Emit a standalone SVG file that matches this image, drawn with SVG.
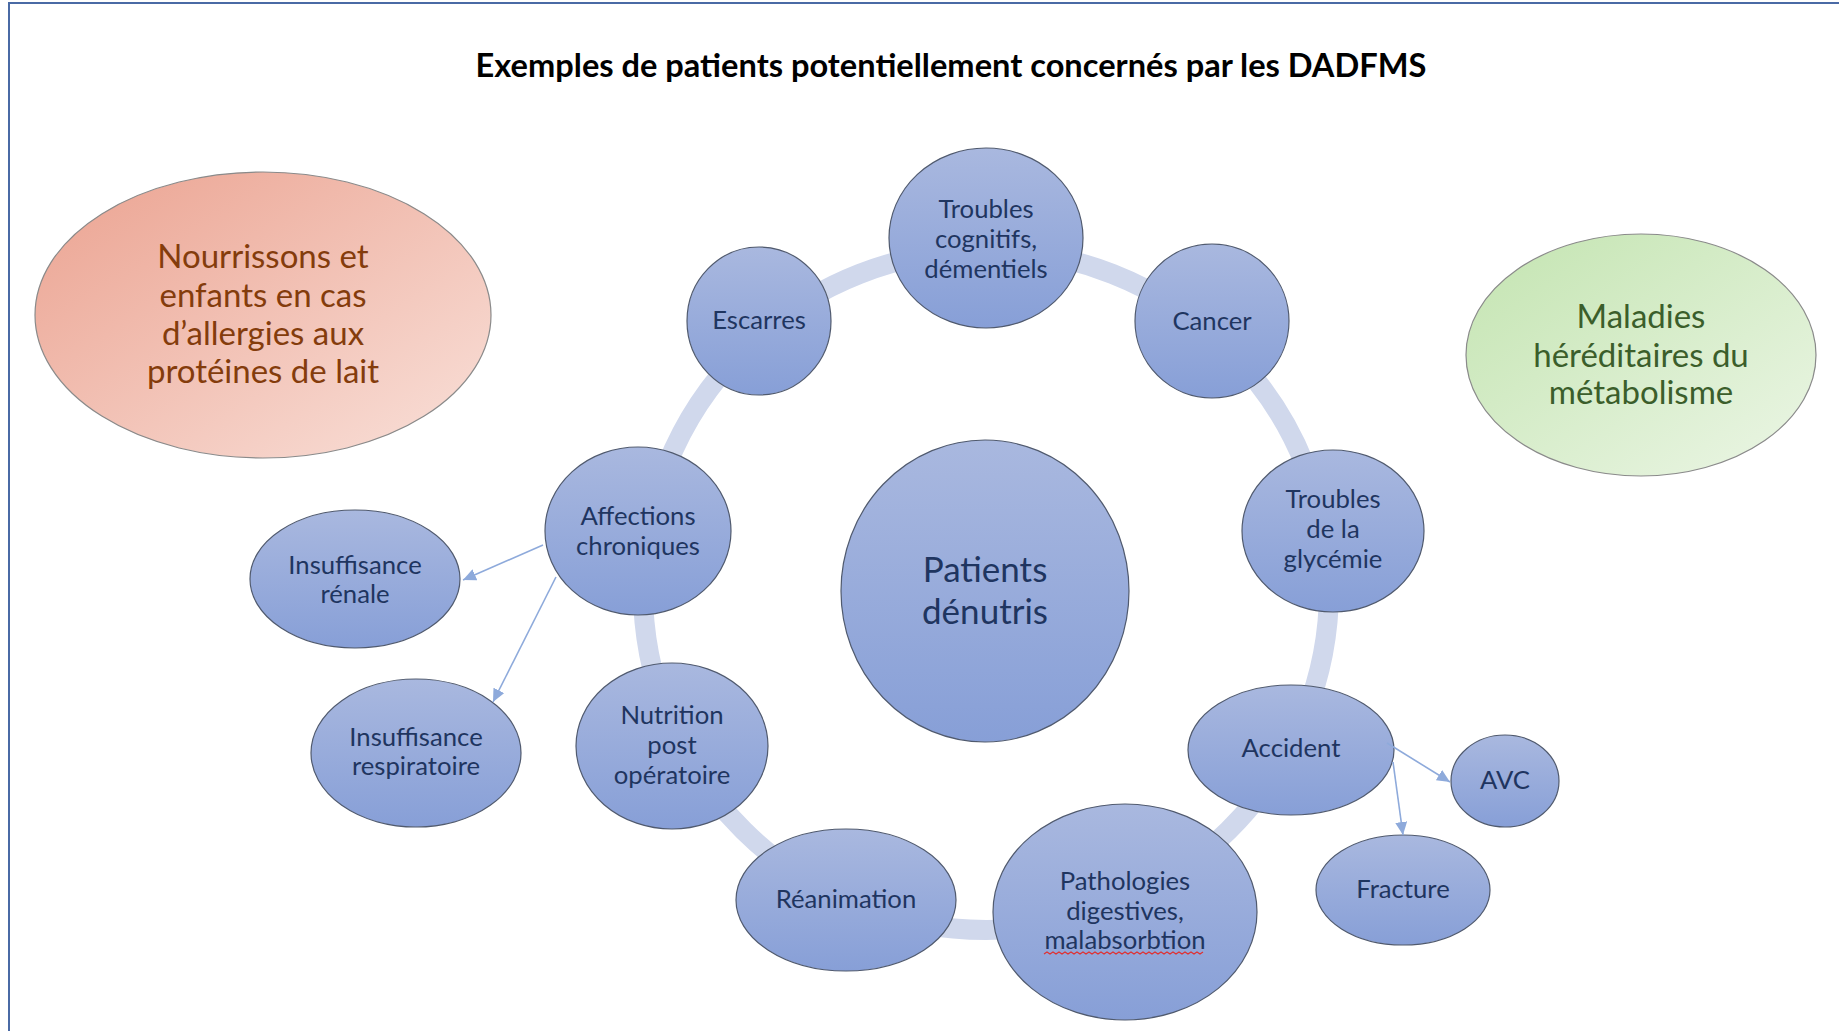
<svg xmlns="http://www.w3.org/2000/svg" width="1839" height="1031" viewBox="0 0 1839 1031">
  <defs>
    <linearGradient id="gBlue" x1="0" y1="0" x2="0" y2="1">
      <stop offset="0" stop-color="#a9b8df"/>
      <stop offset="1" stop-color="#879fd7"/>
    </linearGradient>
    <linearGradient id="gPink" x1="0" y1="0" x2="1" y2="1">
      <stop offset="0" stop-color="#eba290"/>
      <stop offset="1" stop-color="#f9e1da"/>
    </linearGradient>
    <linearGradient id="gGreen" x1="0" y1="0" x2="1" y2="1">
      <stop offset="0" stop-color="#c3e4b0"/>
      <stop offset="1" stop-color="#ecf6e6"/>
    </linearGradient>
    <marker id="arrow" markerUnits="userSpaceOnUse" markerWidth="14" markerHeight="12" refX="13" refY="6" orient="auto">
      <path d="M0,0 L13,6 L0,12 Z" fill="#8eaadb"/>
    </marker>
    <style>
      .node { fill: url(#gBlue); stroke: #505a6e; stroke-width: 1.2; }
      .t { font-family: Lato, "Liberation Sans", sans-serif; font-size: 25.7px; fill: #1f3560; text-anchor: middle; }
      .big { font-size: 35px; }
      .pinkt { font-family: Lato, "Liberation Sans", sans-serif; font-size: 33px; fill: #843c0c; text-anchor: middle; }
      .greent { font-family: Lato, "Liberation Sans", sans-serif; font-size: 33px; fill: #3b5e2b; text-anchor: middle; }
      .conn { stroke: #8eaadb; stroke-width: 1.6; fill: none; marker-end: url(#arrow); }
      .frame { stroke: #4a6aa5; stroke-width: 2; fill: none; }
    </style>
  </defs>
  <rect width="1839" height="1031" fill="#ffffff"/>
  <path class="frame" d="M9,1031 L9,3 L1839,3"/>

  <text x="951" y="77" font-family="Lato, 'Liberation Sans', sans-serif" font-weight="bold" font-size="32.6" fill="#000000" text-anchor="middle">Exemples de patients potentiellement concernés par les DADFMS</text>

  <ellipse id="ring" cx="986" cy="590" rx="343" ry="340" fill="none" stroke="#d0d8ec" stroke-width="20"/>

  <g id="n-nourrissons">
    <ellipse cx="263" cy="315" rx="228" ry="143" fill="url(#gPink)" stroke="#8a8a8a" stroke-width="1.2"/>
    <text class="pinkt" x="263" y="268">Nourrissons et</text>
    <text class="pinkt" x="263" y="307">enfants en cas</text>
    <text class="pinkt" x="263" y="345">d’allergies aux</text>
    <text class="pinkt" x="263" y="383">protéines de lait</text>
  </g>

  <g id="n-maladies">
    <ellipse cx="1641" cy="355" rx="175" ry="121" fill="url(#gGreen)" stroke="#8a8a8a" stroke-width="1.2"/>
    <text class="greent" x="1641" y="328">Maladies</text>
    <text class="greent" x="1641" y="367">héréditaires du</text>
    <text class="greent" x="1641" y="404">métabolisme</text>
  </g>

  <g id="n-patients">
    <ellipse class="node" cx="985" cy="591" rx="144" ry="151"/>
    <text class="t big" x="985" y="582">Patients</text>
    <text class="t big" x="985" y="624">dénutris</text>
  </g>

  <g id="n-troubles-cognitifs">
    <ellipse class="node" cx="986" cy="238" rx="97" ry="90"/>
    <text class="t" x="986" y="218">Troubles</text>
    <text class="t" x="986" y="248">cognitifs,</text>
    <text class="t" x="986" y="278">démentiels</text>
  </g>

  <g id="n-cancer">
    <ellipse class="node" cx="1212" cy="321" rx="77" ry="77"/>
    <text class="t" x="1212" y="330">Cancer</text>
  </g>

  <g id="n-escarres">
    <ellipse class="node" cx="759" cy="321" rx="72" ry="74"/>
    <text class="t" x="759" y="329">Escarres</text>
  </g>

  <g id="n-glycemie">
    <ellipse class="node" cx="1333" cy="531" rx="91" ry="81"/>
    <text class="t" x="1333" y="508">Troubles</text>
    <text class="t" x="1333" y="538">de la</text>
    <text class="t" x="1333" y="568">glycémie</text>
  </g>

  <g id="n-accident">
    <ellipse class="node" cx="1291" cy="750" rx="103" ry="65"/>
    <text class="t" x="1291" y="757">Accident</text>
  </g>

  <g id="n-avc">
    <ellipse class="node" cx="1505" cy="781" rx="54" ry="46"/>
    <text class="t" x="1505" y="789">AVC</text>
  </g>

  <g id="n-fracture">
    <ellipse class="node" cx="1403" cy="890" rx="87" ry="55"/>
    <text class="t" x="1403" y="898">Fracture</text>
  </g>

  <g id="n-pathologies">
    <ellipse class="node" cx="1125" cy="912" rx="132" ry="108"/>
    <text class="t" x="1125" y="890">Pathologies</text>
    <text class="t" x="1125" y="920">digestives,</text>
    <text class="t" x="1125" y="949">malabsorbtion</text>
    <path d="M1044,954 l3,-2 l3,2 l3,-2 l3,2 l3,-2 l3,2 l3,-2 l3,2 l3,-2 l3,2 l3,-2 l3,2 l3,-2 l3,2 l3,-2 l3,2 l3,-2 l3,2 l3,-2 l3,2 l3,-2 l3,2 l3,-2 l3,2 l3,-2 l3,2 l3,-2 l3,2 l3,-2 l3,2 l3,-2 l3,2 l3,-2 l3,2 l3,-2 l3,2 l3,-2 l3,2 l3,-2 l3,2 l3,-2 l3,2 l3,-2 l3,2 l3,-2 l3,2 l3,-2 l3,2 l3,-2 l3,2 l3,-2 l3,2 l3,-2" fill="none" stroke="#e03030" stroke-width="1.2"/>
  </g>

  <g id="n-reanimation">
    <ellipse class="node" cx="846" cy="900" rx="110" ry="71"/>
    <text class="t" x="846" y="908">Réanimation</text>
  </g>

  <g id="n-nutrition">
    <ellipse class="node" cx="672" cy="746" rx="96" ry="83"/>
    <text class="t" x="672" y="724">Nutrition</text>
    <text class="t" x="672" y="754">post</text>
    <text class="t" x="672" y="784">opératoire</text>
  </g>

  <g id="n-affections">
    <ellipse class="node" cx="638" cy="531" rx="93" ry="84"/>
    <text class="t" x="638" y="525">Affections</text>
    <text class="t" x="638" y="555">chroniques</text>
  </g>

  <g id="n-renale">
    <ellipse class="node" cx="355" cy="579" rx="105" ry="69"/>
    <text class="t" x="355" y="574">Insuffisance</text>
    <text class="t" x="355" y="603">rénale</text>
  </g>

  <g id="n-respiratoire">
    <ellipse class="node" cx="416" cy="753" rx="105" ry="74"/>
    <text class="t" x="416" y="746">Insuffisance</text>
    <text class="t" x="416" y="775">respiratoire</text>
  </g>

  <g id="connectors">
    <line class="conn" x1="543" y1="545" x2="463" y2="580"/>
    <line class="conn" x1="556" y1="577" x2="493" y2="702"/>
    <line class="conn" x1="1387" y1="743" x2="1450" y2="782"/>
    <line class="conn" x1="1393" y1="762" x2="1403" y2="835"/>
  </g>
</svg>
